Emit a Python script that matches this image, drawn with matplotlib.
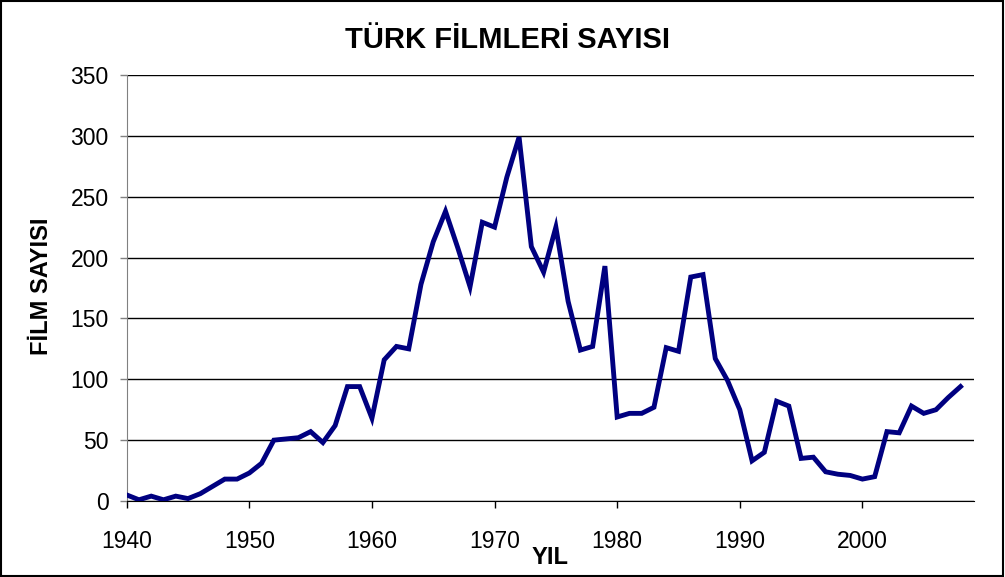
import matplotlib.pyplot as plt
from matplotlib.patches import Rectangle

# Türk filmleri sayısı, yıllara göre (1940-2008)
yillar = list(range(1940, 2009))
film_sayisi = [5, 1, 4, 1, 4, 2, 6, 12, 18, 18,
               23, 31, 50, 51, 52, 57, 48, 62, 94, 94,
               68, 116, 127, 125, 178, 213, 238, 208, 176, 229,
               225, 266, 299, 209, 188, 225, 164, 124, 127, 193,
               69, 72, 72, 77, 126, 123, 184, 186, 117, 99,
               75, 33, 40, 82, 78, 35, 36, 24, 22, 21,
               18, 20, 57, 56, 78, 72, 75, 85, 94]
y_ticks = [0, 50, 100, 150, 200, 250, 300, 350]
x_ticks = [1940, 1950, 1960, 1970, 1980, 1990, 2000]

plt.rcParams['font.family'] = ['Liberation Sans', 'DejaVu Sans']

W, H = 1005, 577
fig = plt.figure(figsize=(W / 100, H / 100), dpi=100)
ax = fig.add_axes([126.7 / W, 1 - 501 / H, (974 - 126.7) / W, (501 - 75) / H])

# cerceve
fig.add_artist(Rectangle((0.001, 0.002), 0.997, 0.996, transform=fig.transFigure,
                         fill=False, edgecolor='black', linewidth=1.5))

ax.plot(yillar, film_sayisi, color='#000080', linewidth=3.5, solid_joinstyle='miter', zorder=3)

ax.set_xlim(1940, 2009.1)
ax.set_ylim(0, 350)
ax.set_yticks(y_ticks)
ax.set_xticks(x_ticks)
ax.yaxis.grid(True, color='black', linewidth=1)
ax.set_axisbelow(True)

ax.spines['top'].set_visible(False)
ax.spines['right'].set_visible(False)
ax.spines['left'].set_color('#808080')
ax.spines['bottom'].set_color('black')
ax.tick_params(axis='both', labelsize=16.5, direction='out', length=5, width=1)
ax.tick_params(axis='y', colors='#808080', labelcolor='black', pad=8)
ax.tick_params(axis='x', pad=16)

fig.text(507.5 / W, 1 - 40 / H, 'TÜRK FİLMLERİ SAYISI', fontsize=21, fontweight='bold',
         ha='center', va='center')
fig.text(42 / W, 1 - 286 / H, 'FİLM SAYISI', fontsize=17, fontweight='bold',
         ha='center', va='center', rotation=90)
fig.text(550 / W, 1 - 557 / H, 'YIL', fontsize=17, fontweight='bold',
         ha='center', va='center')

fig.savefig('out.png', dpi=100)
